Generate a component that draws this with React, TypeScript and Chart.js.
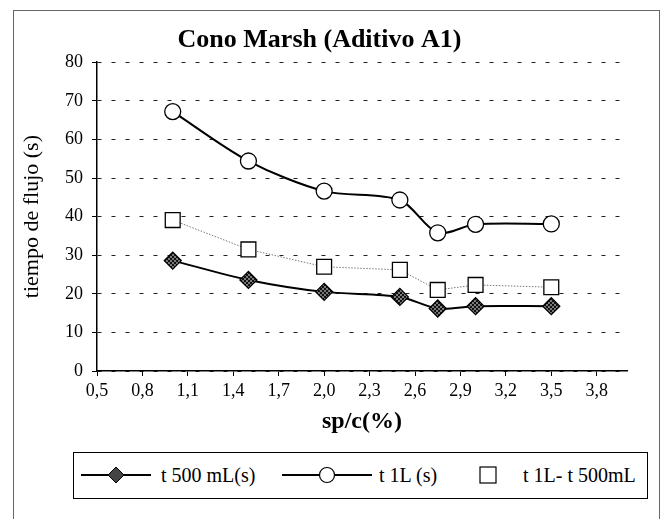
import React, { useEffect, useRef } from 'react';
import { Chart, registerables } from 'chart.js';

Chart.register(...registerables);

const FONT = "'Liberation Serif', 'Times New Roman', serif";

// Data
const spc = [1.0, 1.5, 2.0, 2.5, 2.75, 3.0, 3.5];
const t500 = [28.6, 23.6, 20.5, 19.2, 16.2, 16.8, 16.8];
const t1L = [67.2, 54.4, 46.6, 44.3, 35.8, 38.0, 38.1];
const tDiff = [39.1, 31.5, 27.0, 26.2, 21.0, 22.3, 21.7];
const xTickValues = [0.5, 0.8, 1.1, 1.4, 1.7, 2.0, 2.3, 2.6, 2.9, 3.2, 3.5, 3.8];
const seriesNames = ['t 500 mL(s)', 't 1L (s)', 't 1L- t 500mL'];

const toPoints = (ys: number[]) => spc.map((x, i) => ({ x, y: ys[i] }));

export default function App() {
  const ref = useRef<HTMLCanvasElement>(null);

  useEffect(() => {
    const canvas = ref.current!;
    const pc = document.createElement('canvas');
    pc.width = 4;
    pc.height = 4;
    const pctx = pc.getContext('2d')!;
    pctx.fillStyle = '#7a7a7a';
    pctx.fillRect(0, 0, 4, 4);
    pctx.fillStyle = '#111';
    pctx.fillRect(0, 0, 2, 2);
    pctx.fillRect(2, 2, 2, 2);
    const pattern = canvas.getContext('2d')!.createPattern(pc, 'repeat');

    const chart = new Chart(canvas, {
      type: 'line',
      data: {
        datasets: [
          {
            label: seriesNames[0],
            data: toPoints(t500),
            borderColor: '#000',
            borderWidth: 2,
            tension: 0.3,
            pointStyle: 'rectRot',
            pointRadius: 8.5,
            pointBackgroundColor: pattern as any,
            pointBorderColor: '#000',
            pointBorderWidth: 1.3,
            order: 0,
          },
          {
            label: seriesNames[1],
            data: toPoints(t1L),
            borderColor: '#000',
            borderWidth: 2,
            tension: 0.3,
            pointStyle: 'circle',
            pointRadius: 8,
            pointBackgroundColor: '#fff',
            pointBorderColor: '#000',
            pointBorderWidth: 1.3,
            order: 1,
          },
          {
            label: seriesNames[2],
            data: toPoints(tDiff),
            borderColor: '#777',
            borderWidth: 1,
            borderDash: [1.5, 1.5],
            tension: 0,
            pointStyle: 'rect',
            pointRadius: 10.5,
            pointBackgroundColor: '#fff',
            pointBorderColor: '#000',
            pointBorderWidth: 1.3,
            order: 2,
          },
        ],
      },
      options: {
        responsive: false,
        animation: false,
        events: [],
        layout: { padding: { top: 10, left: 12, right: 35, bottom: 78 } },
        plugins: {
          legend: { display: false },
          tooltip: { enabled: false },
          title: {
            display: true,
            text: 'Cono Marsh (Aditivo A1)',
            color: '#000',
            font: { family: FONT, size: 26, weight: 'bold' },
            padding: { top: 15, bottom: 6 },
          },
        },
        scales: {
          x: {
            type: 'linear',
            min: 0.5,
            max: 4.0,
            afterBuildTicks: (s: any) => {
              s.ticks = xTickValues.map((v) => ({ value: v }));
            },
            afterFit: (s: any) => {
              s.height = 70;
            },
            ticks: {
              autoSkip: false,
              maxRotation: 0,
              color: '#000',
              padding: 4,
              font: { family: FONT, size: 18 },
              callback: (v: any) => Number(v).toFixed(1).replace('.', ','),
            },
            grid: {
              drawOnChartArea: false,
              drawTicks: true,
              tickLength: 5,
              tickColor: '#000',
              tickWidth: 1,
            },
            border: { display: true, color: '#000', width: 1.5 },
            title: {
              display: true,
              text: 'sp/c(%)',
              color: '#000',
              font: { family: FONT, size: 24, weight: 'bold' },
              padding: { top: 0, bottom: 5 },
            },
          },
          y: {
            min: 0,
            max: 80,
            afterFit: (s: any) => {
              s.width = 85;
            },
            ticks: {
              stepSize: 10,
              color: '#000',
              padding: 9,
              font: { family: FONT, size: 18 },
            },
            grid: {
              color: '#222',
              lineWidth: 1,
              drawTicks: true,
              tickLength: 5,
              tickColor: '#000',
              tickWidth: 1,
              tickBorderDash: [],
            },
            border: { display: true, color: '#000', width: 1.5, dash: [4, 10] },
            title: {
              display: true,
              text: 'tiempo de flujo (s)',
              color: '#000',
              font: { family: FONT, size: 22 },
              padding: { top: 7, bottom: 0 },
            },
          },
        },
      },
    });
    return () => chart.destroy();
  }, []);

  const legendText: React.CSSProperties = {
    position: 'absolute',
    top: 0,
    height: 45,
    lineHeight: '45px',
    fontFamily: FONT,
    fontSize: 20,
    color: '#000',
    whiteSpace: 'nowrap',
  };

  return (
    <div
      style={{
        position: 'fixed',
        left: 0,
        top: 0,
        width: 662,
        height: 519,
        overflow: 'hidden',
        background: '#fff',
      }}
    >
      <canvas ref={ref} width={662} height={519} style={{ position: 'absolute', left: 0, top: 0 }} />
      <div
        style={{
          position: 'absolute',
          left: 13,
          top: 10,
          width: 645,
          height: 530,
          border: '1px solid #666',
          pointerEvents: 'none',
        }}
      />
      <div
        style={{
          position: 'absolute',
          left: 73,
          top: 452,
          width: 573,
          height: 45,
          border: '1px solid #000',
          background: '#fff',
        }}
      >
        <svg style={{ position: 'absolute', left: 7, top: 12 }} width={70} height={20}>
          <line x1={0} y1={10} x2={70} y2={10} stroke="#000" strokeWidth={2} />
          <polygon points="35,2 43,10 35,18 27,10" fill="#444" stroke="#000" strokeWidth={1} />
        </svg>
        <span style={{ ...legendText, left: 87 }}>{seriesNames[0]}</span>
        <svg style={{ position: 'absolute', left: 208, top: 12 }} width={90} height={20}>
          <line x1={0} y1={10} x2={90} y2={10} stroke="#000" strokeWidth={2} />
          <circle cx={45} cy={10} r={7.5} fill="#fff" stroke="#000" strokeWidth={1.2} />
        </svg>
        <span style={{ ...legendText, left: 305 }}>{seriesNames[1]}</span>
        <svg style={{ position: 'absolute', left: 405, top: 13 }} width={18} height={18}>
          <rect x={1} y={1} width={16} height={16} fill="#fff" stroke="#000" strokeWidth={1.2} />
        </svg>
        <span style={{ ...legendText, left: 449 }}>{seriesNames[2]}</span>
      </div>
    </div>
  );
}
